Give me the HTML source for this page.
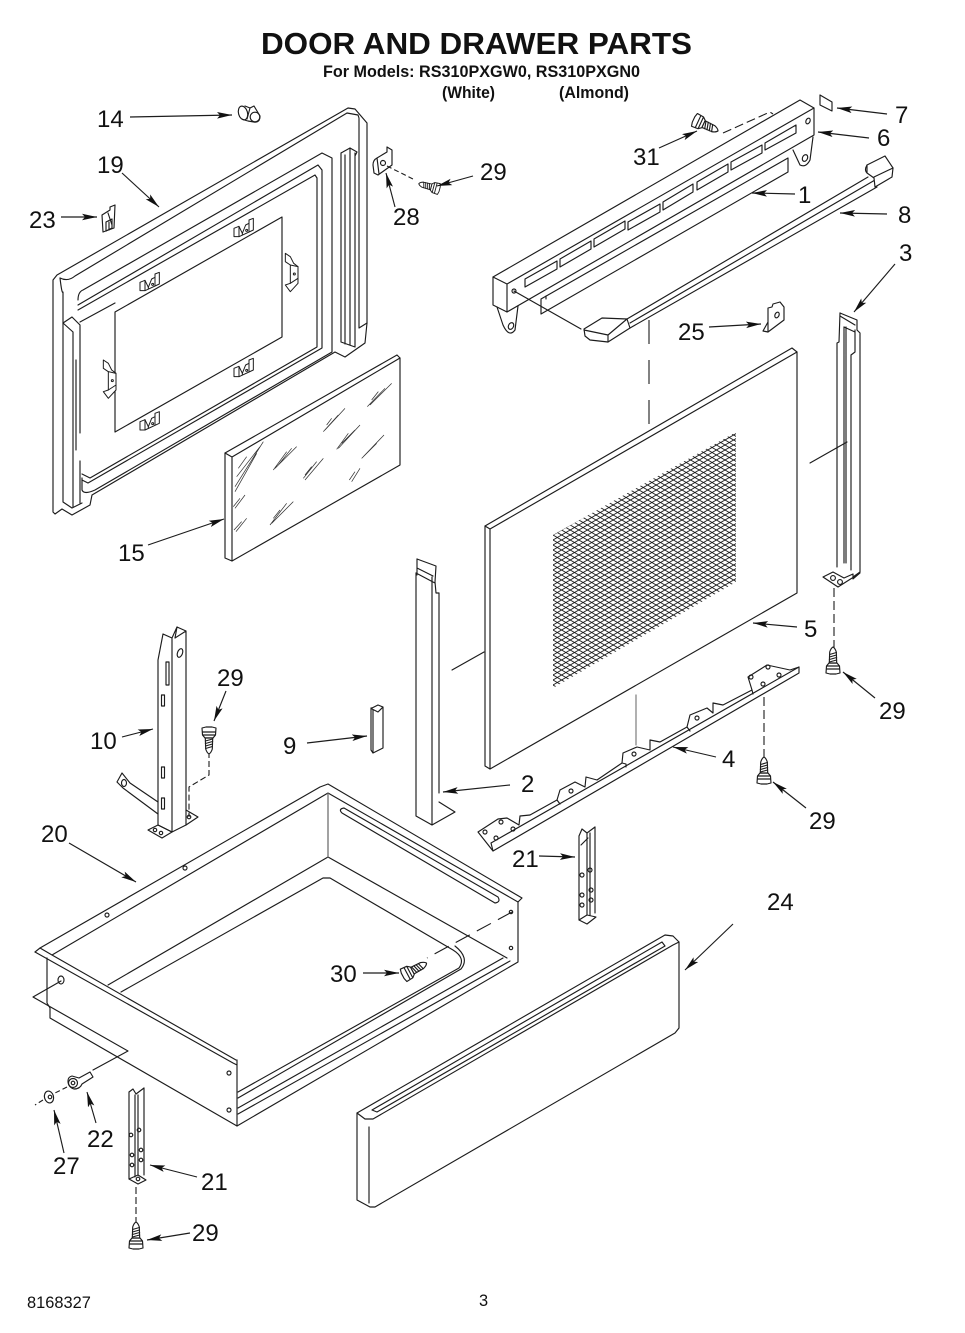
<!DOCTYPE html>
<html><head><meta charset="utf-8"><title>Door and Drawer Parts</title>
<style>
html,body{margin:0;padding:0;background:#fff;width:965px;height:1333px;overflow:hidden}
svg{display:block}
text{font-family:"Liberation Sans",sans-serif;fill:#111}
.n{font-size:24px}
.p{fill:none;stroke:#1c1c1c;stroke-width:1.15;stroke-linejoin:round;stroke-linecap:round}
.w{fill:#fff}
.g{stroke:#777}
.a{fill:none;stroke:#1c1c1c;stroke-width:1.15;marker-end:url(#ah)}
.d{fill:none;stroke:#1c1c1c;stroke-width:1.1}
</style></head><body>
<svg width="965" height="1333" viewBox="0 0 965 1333" xmlns="http://www.w3.org/2000/svg">
<defs>
<marker id="ah" markerUnits="userSpaceOnUse" markerWidth="15" markerHeight="7" viewBox="0 0 15 7" refX="15" refY="3.5" orient="auto"><path d="M0,0.2L15,3.5L0,6.8L3,3.5z" fill="#111"/></marker>
<pattern id="mesh" patternUnits="userSpaceOnUse" width="8.6" height="5" x="553" y="535"><path d="M0,0L8.6,5M0,5L8.6,0" stroke="#111" stroke-width=".85" fill="none"/></pattern>
<g id="sc" class="p"><path class="w" d="M-5,-7L2,-6.5L5,-4V4L2,6.5L-5,7L-6,3V-3z"/><path d="M-1,-6.5V6.5M2,-6V6"/><path class="w" d="M5,-3.7L16,-3.3Q20,-2 21,0Q20,2 16,3.3L5,3.7z"/><path d="M6,-3.6L8,3.6M8.5,-3.6L10.5,3.6M11,-3.5L13,3.5M13.5,-3.4L15.5,3.4"/></g>
<g id="hc" class="p"><path class="w" style="stroke-width:3" d="M0,55V30L15,24L25,45L35,20L45,15V5L58,0V35L15,55z"/><path style="stroke-width:3" d="M15,24V55M25,45V50M45,15V40"/><circle style="stroke-width:3" cx="38" cy="36" r="3"/></g>
<g id="vc" class="p"><path class="w" style="stroke-width:3" d="M0,0L15,10L25,30L38,40V90L15,115L0,95L15,90V35L0,25z"/><path style="stroke-width:3" d="M15,35L38,40M15,90L38,75"/><circle style="stroke-width:3" cx="27" cy="62" r="3"/></g>
</defs>

<text x="476.5" y="54" text-anchor="middle" font-size="31" font-weight="bold" textLength="431" lengthAdjust="spacingAndGlyphs">DOOR AND DRAWER PARTS</text>
<text x="323" y="77" font-size="17" font-weight="bold" textLength="317" lengthAdjust="spacingAndGlyphs">For Models: RS310PXGW0, RS310PXGN0</text>
<text x="442" y="98" font-size="17" font-weight="bold" textLength="53" lengthAdjust="spacingAndGlyphs">(White)</text>
<text x="559" y="98" font-size="17" font-weight="bold" textLength="70" lengthAdjust="spacingAndGlyphs">(Almond)</text>

<!-- Door frame 19 -->
<g class="p">
<path d="M53,280L57,275L348,108L355,109L367,123V323L365,343L345,357L335,352L92,495L90,505L72,515L62,509L55,514L53,512z"/>
<path d="M60,278Q62,295 63,292V502L72,508L82,503M60,278Q68,282 75,276L347,113L358,115L359,118V328M359,328L367,323"/>
<path d="M78,300Q78,292 83,290L322,153L332,158V352L95,490Q84,495 82,490V478"/>
<path d="M78,305L318,165L322,170V348L88,483L82,480"/>
<path d="M78,310L315,175L317,178V347L90,478L82,474"/>
<path d="M80,322L115,303"/>
<path d="M115,312L282,217V337L115,432z"/>
<path d="M63,323L72,317L80,325V433M73,332V507M80,461V503M63,323L73,332M76,360V450"/>
<path d="M341,153V342L355,347V153M345,155V344M350,148V345M341,153L350,148L357,152L355,156"/>
</g>
<g transform="translate(30,90) scale(.33333)">
<use href="#hc" x="330" y="547"/><use href="#hc" x="612" y="385"/><use href="#hc" x="612" y="805"/><use href="#hc" x="330" y="965"/>
<use href="#vc" x="766" y="490"/><use href="#vc" x="220" y="810"/>
</g>
<!-- glass 15 -->
<g class="p">
<path d="M225,453L397,355L400,358V465L232,561L225,558z"/><path d="M225,453L232,457L400,358M232,457V561"/>
</g>
<g transform="translate(30,90) scale(.33333)" fill="none" stroke="#333" stroke-width="2.2">
<path d="M700,1055L615,1190M690,1070L620,1160M680,1090L615,1205M650,1100L625,1135"/>
<path d="M800,1070L735,1135M785,1075L745,1125M770,1085L730,1140"/>
<path d="M880,1105L825,1170M860,1115L820,1165M845,1130L825,1155"/>
<path d="M945,955L885,1020M925,975L880,1025M905,985L890,1005"/>
<path d="M990,1005L925,1075M975,1020L935,1060M955,1030L920,1078"/>
<path d="M1062,1035L1000,1100M1040,1060L995,1105"/>
<path d="M1085,880L1020,945M1065,895L1012,950M1045,905L1025,930"/>
<path d="M990,1135L965,1175M975,1145L958,1170"/>
<path d="M790,1235L725,1300M770,1240L720,1305M750,1260L730,1285"/>
<path d="M645,1215L615,1255M630,1225L610,1250"/>
<path d="M650,1285L618,1325M635,1295L612,1320"/>
</g>
<!-- part 14 -->
<g class="p"><ellipse cx="243" cy="113" rx="4.5" ry="7" transform="rotate(-15 243 113)"/><path d="M245,106L250,108L254,106L260,116Q260,123 254,122L248,121Q244,120 242,119"/><path d="M250,108L247,119"/><circle cx="255" cy="117" r="4.8"/></g>
<!-- 23, 28 -->
<g class="p"><path d="M102,215L110,210V207L115,205L114,228L103,232z"/><path d="M106,222L112,219V228L106,231zM109,222V230M108,213L112,225"/>
<path d="M377,158L387,152V147L392,150V165L378,175L374,173L373,165Q373,160 377,158M377,158L379,174"/><circle cx="383" cy="163" r="2.5"/></g>
<path class="d" style="stroke-dasharray:5 3" d="M387,166L415,180"/>
<use href="#sc" transform="translate(435,188) rotate(195) scale(.8)"/>

<!-- Part 6 vent -->
<g class="p">
<path class="w" d="M493,277L800,100L814,108V135L507,312L493,305z"/><path d="M493,277L507,284L814,108M507,284V312"/>
<path d="M525,279L557,261V269L525,287z"/><path d="M560,259L591,241V249L560,267z"/><path d="M594,239L625,221V229L594,247z"/><path d="M628,222L660,204V212L628,230z"/><path d="M663,202L693,184V192L663,210z"/><path d="M697,182L728,164V172L697,190z"/><path d="M731,162L762,145V153L731,170z"/><path d="M765,143L796,125V133L765,150z"/>
<path d="M497,307L503,325Q509,338 515,330L518,306"/><path d="M793,150L800,165Q806,168 810,160L813,137"/>
<ellipse cx="511" cy="326" rx="2.5" ry="3.5" transform="rotate(25 511 326)"/><ellipse cx="805" cy="158" rx="2.5" ry="3.5" transform="rotate(25 805 158)"/>
<circle cx="514" cy="291" r="2"/><ellipse cx="808" cy="121" rx="2" ry="3" transform="rotate(25 808 121)"/>
<path d="M514,291L581,329"/>
<path d="M541,299L788,158V172L541,314zM546,296V299"/>
<!-- Part 8 -->
<path d="M627,319L868,177M630,323L875,180M630,328L877,187"/>
<path class="w" d="M584,329L602,318L627,319L630,328L608,342L590,340L585,336z"/><path d="M584,330L608,335L627,319M608,335V342"/>
<path class="w" d="M867,165L885,156L893,168L892,177L875,187L874,178L867,173z"/><path d="M874,177L893,168M867,165Q864,170 867,173"/>
<!-- 7 -->
<path d="M820,95L832,102V111L820,105z"/>
<!-- 25 -->
<path d="M763,331L768,322V308L772,307L773,304L780,302L784,307V320L768,332L763,331zM768,322V332"/><ellipse cx="777" cy="315" rx="2" ry="3" transform="rotate(25 777 315)"/>
</g>
<use href="#sc" transform="translate(699,122) rotate(25)"/>
<path class="d" style="stroke-dasharray:9 4" d="M723,133L770,112L773,114"/>

<!-- Panel 5 -->
<path d="M553,535L736,432V582L553,688z" fill="url(#mesh)"/>
<g class="p">
<path d="M485,526L792,348L797,352V593L490,769L485,766z"/><path d="M485,526L490,529L797,352M490,529V769"/>
<path d="M452,670L484,652"/><path d="M810,463L847,442"/>
</g>
<path class="d" style="stroke-dasharray:24 16" d="M649,320V430"/>
<path class="p g" d="M636,695V745"/>

<!-- Part 3 -->
<g class="p">
<path d="M840,313L857,320V330L860,333V572L853,577M840,313L839,342L837,343V567M844,327V563M846,327V563M851,355V570M855,330V352L851,355M840,316L855,325M844,327L855,332"/>
<path class="w" d="M823,577L833,572L844,578L853,574V579L860,573L838,587z"/><circle cx="833" cy="578" r="2.4"/><circle cx="840" cy="582" r="2.4"/>
</g>
<path class="d" style="stroke-dasharray:9 4" d="M834,588V648"/>
<use href="#sc" transform="translate(833,668) rotate(-90)"/>

<!-- Part 2 -->
<g class="p">
<path d="M417,559L436,566L435,582L436,593H439V793M417,559V575M416,573V816L432,825L455,812L439,802M432,825V577M416,573L433,582L435,583M417,568L433,576"/>
</g>

<!-- Part 4 -->
<g class="p">
<path class="w" d="M478,832L498,819L507,818L519,825L520,816L530,815L557,800L560,790L575,782L585,787L586,777L597,780L622,763L623,753L637,747L650,750L650,740L660,742L687,727L690,715L707,708L713,713L713,703L723,705L752,690L748,677L767,665L790,670L799,667V673L493,851z"/>
<path d="M491,843L799,667M491,843L493,851M622,763L626,764V767M557,800L560,804M687,727L690,731M752,690L753,694"/>
<circle cx="485" cy="832" r="2"/><circle cx="501" cy="822" r="2"/><circle cx="496" cy="838" r="2"/><circle cx="513" cy="829" r="2"/><circle cx="571" cy="791" r="2"/><circle cx="634" cy="754" r="2"/><circle cx="697" cy="718" r="2"/><circle cx="751" cy="677" r="2"/><circle cx="768" cy="667" r="2"/><circle cx="763" cy="684" r="2"/><circle cx="779" cy="675" r="2"/>
</g>
<path class="d" style="stroke-dasharray:9 4" d="M764,697V758"/>
<use href="#sc" transform="translate(764,778) rotate(-90)"/>

<!-- Part 9 -->
<g class="p"><path d="M372,708L378,705L383,707V748L373,753L371,750V708zM373,710V753M372,709L378,712L383,707"/></g>

<!-- Part 10 -->
<g class="p">
<path d="M158,660L163,634L172,638L177,627L186,631V825L172,832L158,825zM172,638V832M177,627L175,638L186,631"/>
<path d="M148,830L158,825L172,832L162,838z"/><path d="M186,810L198,817L186,825"/>
<path d="M158,814L123,788L117,782L122,773L130,783L158,802"/>
<rect x="161.5" y="695" width="3" height="11"/><rect x="161.5" y="767" width="3" height="11"/><rect x="161.5" y="798" width="3" height="11"/><rect x="166" y="662" width="3" height="23"/>
<ellipse cx="180" cy="653" rx="2.5" ry="4.5" transform="rotate(20 180 653)"/><ellipse cx="124" cy="783" rx="2.5" ry="3.5"/><circle cx="155" cy="830" r="1.7"/><circle cx="161" cy="833" r="1.7"/><circle cx="189" cy="817" r="1.8"/>
</g>
<path class="d" style="stroke-dasharray:6 3" d="M209,752V775L189,787V817"/>
<use href="#sc" transform="translate(209,733) rotate(90)"/>

<!-- Drawer 20 -->
<g class="p">
<path d="M35,952L40,948L320,787L328,784L522,898L518,902V962L237,1126L50,1018V1008L47,1003V958"/>
<path d="M40,948L52,955L328,793V857M35,952L233,1063L237,1065M52,955L236,1060M237,1060V1126"/>
<path d="M328,793L518,902"/>
<path d="M108,985L328,857L507,958"/>
<path d="M121,992L323,878H330L453,950Q466,958 459,968L238,1092"/>
<path d="M455,946Q470,958 461,969L238,1098"/>
<path d="M238,1108L503,958M238,1114L510,961"/>
<path d="M344,808L498,897Q501,902 495,903L342,813Q338,809 344,808z"/>
<path d="M61,981L33,997L128,1051L93,1070"/>
<ellipse cx="61" cy="980" rx="3" ry="4"/><circle cx="229" cy="1073" r="2"/><circle cx="229" cy="1110" r="2"/><circle cx="107" cy="915" r="2"/><circle cx="185" cy="868" r="2"/><circle cx="511" cy="912" r="1.7"/><circle cx="511" cy="948" r="1.7"/>
</g>
<path class="p g" d="M328,793V857"/>
<path class="d" style="stroke-dasharray:16 8" d="M512,912L427,958"/>
<use href="#sc" transform="translate(408,973) rotate(-28)"/>
<!-- 22, 27 -->
<g class="p">
<path class="w" d="M72,1076L79,1078L90,1072L93,1077L82,1084Q80,1089 74,1089Q68,1087 68,1081Q68,1077 72,1076z"/><circle cx="73" cy="1083" r="4.5"/><circle cx="73" cy="1083" r="1.8"/>
<ellipse cx="49" cy="1097" rx="4.5" ry="6" transform="rotate(-15 49 1097)"/><circle cx="50" cy="1097" r="1.8"/>
</g>
<path class="d" style="stroke-dasharray:5 3" d="M67,1087L55,1093M43,1100L35,1105"/>

<!-- Part 24 -->
<g class="p">
<path d="M357,1113L665,935L673,936L679,942V1028L675,1033L375,1207L370,1207L357,1200z"/>
<path d="M357,1113L365,1119L373,1119L673,945L679,942M372,1110L662,942L665,946L377,1112zM369,1127V1203"/>
</g>

<!-- Part 21 center -->
<g class="p">
<path d="M579,836V920M595,827V913M587,833V915M590,833V915M579,836L582,829L587,833L595,827M581,845L588,838"/>
<path d="M579,920L587,915L596,917L587,924z"/>
<circle cx="582" cy="875" r="2"/><circle cx="590" cy="870" r="2"/><circle cx="582" cy="895" r="2"/><circle cx="591" cy="890" r="2"/><circle cx="582" cy="905" r="2"/><circle cx="591" cy="900" r="2"/>
</g>
<!-- Part 21 bottom -->
<g class="p">
<path d="M129,1092V1179M144,1088V1175M135,1095V1177M138,1095V1175M129,1092L133,1089L136,1094L144,1088"/>
<path d="M129,1179L138,1175L146,1180L138,1184z"/>
<circle cx="131" cy="1135" r="1.8"/><circle cx="139" cy="1130" r="1.8"/><circle cx="132" cy="1155" r="1.8"/><circle cx="141" cy="1150" r="1.8"/><circle cx="132" cy="1165" r="1.8"/><circle cx="141" cy="1160" r="1.8"/><circle cx="138" cy="1179" r="1.8"/>
</g>
<path class="d" style="stroke-dasharray:7 3" d="M136,1187V1222"/>
<use href="#sc" transform="translate(136,1243) rotate(-90)"/>

<!-- Arrows -->
<path class="a" d="M130,117L232,115"/>
<path class="a" d="M122,173L159,207"/>
<path class="a" d="M61,217L97,217"/>
<path class="a" d="M148,545L224,519"/>
<path class="a" d="M395,207L386,173"/>
<path class="a" d="M473,176L437,186"/>
<path class="a" d="M659,148L697,131"/>
<path class="a" d="M887,114L837,108"/>
<path class="a" d="M869,138L818,132"/>
<path class="a" d="M795,194L752,193"/>
<path class="a" d="M887,214L840,213"/>
<path class="a" d="M895,264L854,312"/>
<path class="a" d="M709,327L761,324"/>
<path class="a" d="M797,627L753,623"/>
<path class="a" d="M716,757L673,747"/>
<path class="a" d="M510,785L443,792"/>
<path class="a" d="M806,808L773,782"/>
<path class="a" d="M875,698L843,672"/>
<path class="a" d="M539,856L575,857"/>
<path class="a" d="M122,737L153,729"/>
<path class="a" d="M226,691L214,721"/>
<path class="a" d="M307,743L367,736"/>
<path class="a" d="M69,843L136,882"/>
<path class="a" d="M363,973L399,973"/>
<path class="a" d="M96,1123L87,1092"/>
<path class="a" d="M64,1153L54,1110"/>
<path class="a" d="M197,1177L150,1165"/>
<path class="a" d="M190,1233L147,1240"/>
<path class="a" d="M733,924L685,970"/>

<!-- Labels -->
<g>
<text class="n" x="97" y="127">14</text><text class="n" x="97" y="173">19</text><text class="n" x="29" y="228">23</text><text class="n" x="118" y="561">15</text>
<text class="n" x="393" y="225">28</text><text class="n" x="480" y="180">29</text><text class="n" x="633" y="165">31</text><text class="n" x="895" y="123">7</text>
<text class="n" x="877" y="146">6</text><text class="n" x="798" y="203">1</text><text class="n" x="898" y="223">8</text><text class="n" x="899" y="261">3</text>
<text class="n" x="678" y="340">25</text><text class="n" x="804" y="637">5</text><text class="n" x="722" y="767">4</text><text class="n" x="521" y="792">2</text>
<text class="n" x="283" y="754">9</text><text class="n" x="90" y="749">10</text><text class="n" x="217" y="686">29</text><text class="n" x="879" y="719">29</text>
<text class="n" x="809" y="829">29</text><text class="n" x="41" y="842">20</text><text class="n" x="512" y="867">21</text><text class="n" x="767" y="910">24</text>
<text class="n" x="330" y="982">30</text><text class="n" x="87" y="1147">22</text><text class="n" x="53" y="1174">27</text><text class="n" x="201" y="1190">21</text><text class="n" x="192" y="1241">29</text>
</g>
<text x="27" y="1308" font-size="16.4">8168327</text>
<text x="479" y="1306" font-size="16.4">3</text>
</svg>
</body></html>
